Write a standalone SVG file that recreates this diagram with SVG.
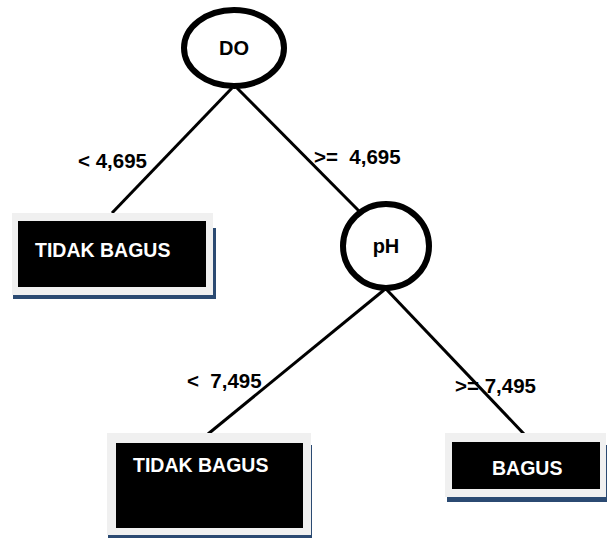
<svg xmlns="http://www.w3.org/2000/svg" width="609" height="538" viewBox="0 0 609 538">
<style>
.shadow{fill:#2b4a72}
.frame{fill:#f0f0f0}
.inner{fill:#000}
.node{fill:#fff;stroke:#000;stroke-width:6}
.edge{stroke:#000;stroke-width:3;fill:none}
.lbl{font-family:"Liberation Sans",Arial,sans-serif;font-weight:bold;font-size:20.5px;fill:#000}
.nt{font-family:"Liberation Sans",Arial,sans-serif;font-weight:bold;font-size:20px;fill:#000;text-anchor:middle}
.bt{font-family:"Liberation Sans",Arial,sans-serif;font-weight:bold;font-size:19.5px;fill:#fff}
</style>
<rect width="609" height="538" fill="#fff"/>
<g id="connectors">
<line class="edge" x1="232" y1="88" x2="112" y2="213"/>
<line class="edge" x1="237" y1="88" x2="360" y2="212"/>
<line class="edge" x1="384" y1="290" x2="208" y2="434"/>
<line class="edge" x1="387" y1="290" x2="524" y2="434"/>
<text class="lbl" x="78" y="168">&lt; 4,695</text>
<text class="lbl" x="314" y="164" xml:space="preserve">&gt;=  4,695</text>
<text class="lbl" x="187" y="388" xml:space="preserve">&lt;  7,495</text>
<text class="lbl" x="455" y="393">&gt;= 7,495</text>
</g>
<g id="node-do">
<ellipse class="node" cx="234" cy="48" rx="50" ry="38"/>
<text class="nt" x="234" y="55">DO</text>
</g>
<g id="node-ph">
<ellipse class="node" cx="386" cy="246" rx="43" ry="42"/>
<text class="nt" x="386" y="253">pH</text>
</g>
<g id="leaf-1">
<rect class="shadow" x="13" y="228" width="203" height="71"/>
<rect class="frame" x="12" y="213" width="201" height="82"/>
<rect class="inner" x="18" y="221" width="188" height="66"/>
<text class="bt" x="35" y="257">TIDAK BAGUS</text>
</g>
<g id="leaf-2">
<rect class="shadow" x="108" y="445" width="204" height="93"/>
<rect class="frame" x="107" y="433" width="204" height="102"/>
<rect class="inner" x="116" y="443" width="187" height="85"/>
<text class="bt" x="133" y="472">TIDAK BAGUS</text>
</g>
<g id="leaf-3">
<rect class="shadow" x="447" y="445" width="160" height="57"/>
<rect class="frame" x="445" y="433" width="161" height="64"/>
<rect class="inner" x="452" y="442" width="148" height="47"/>
<text class="bt" x="492" y="475">BAGUS</text>
</g>
</svg>
